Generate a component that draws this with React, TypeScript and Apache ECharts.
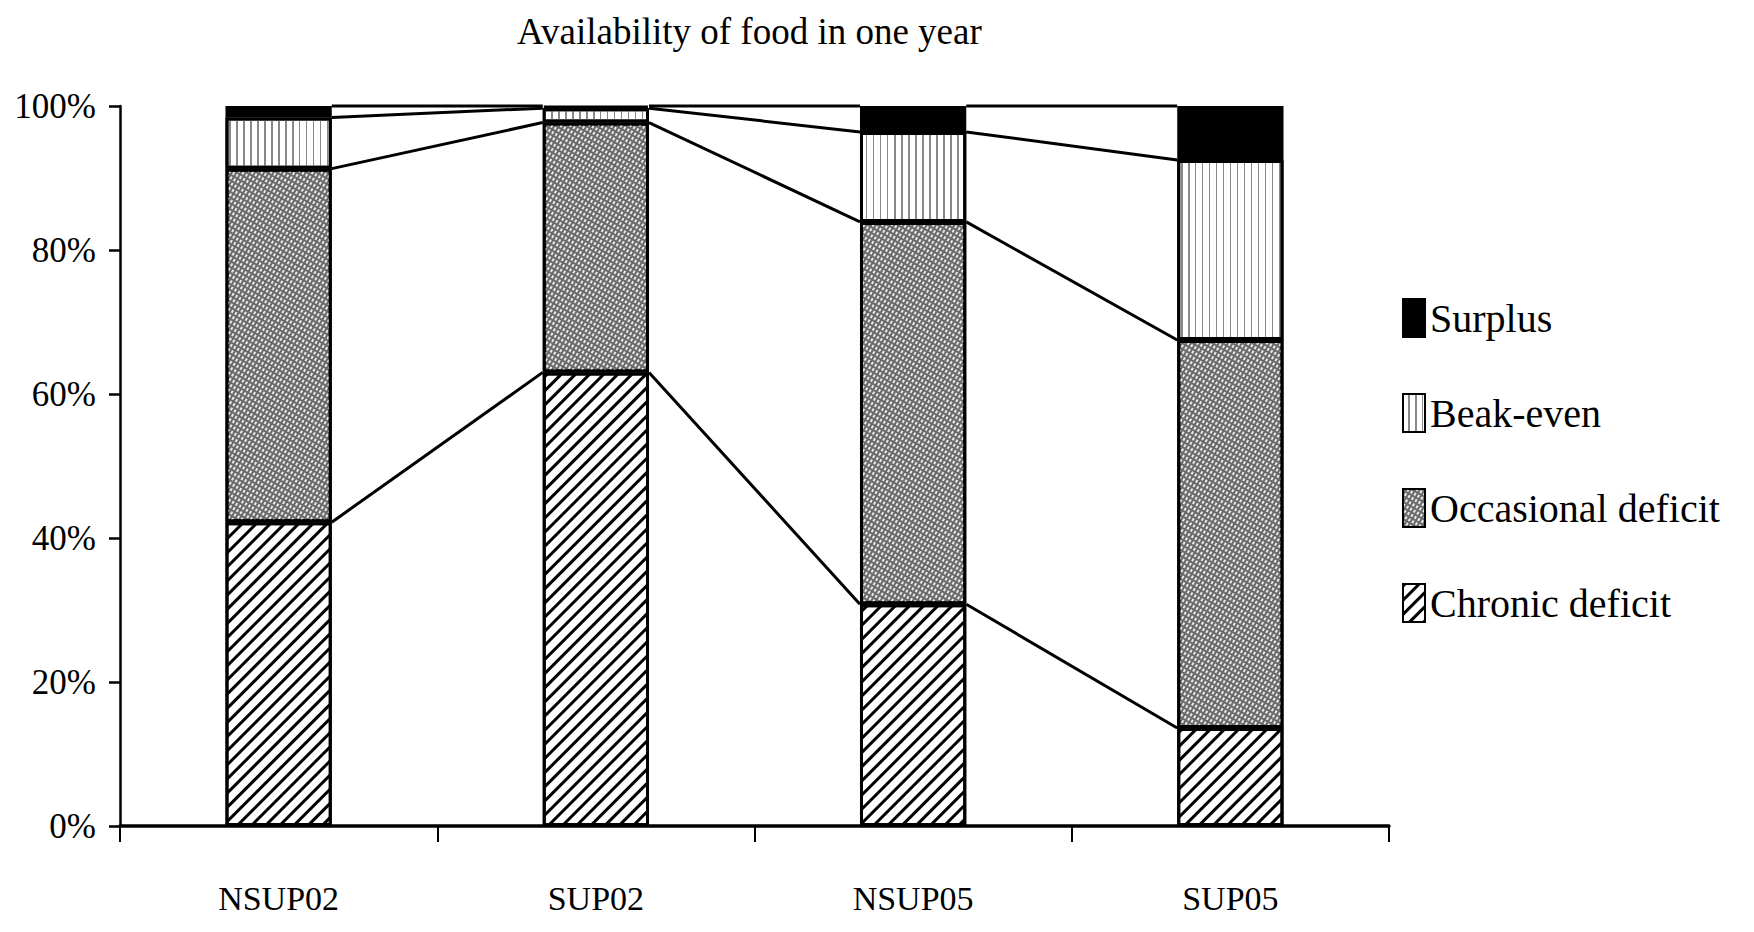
import React, { useEffect, useRef } from "react";
import * as echarts from "echarts";

const categories = ["NSUP02", "SUP02", "NSUP05", "SUP05"];
const chronicDeficit = [42.2, 63.0, 30.8, 13.6];
const occasionalDeficit = [49.1, 34.7, 53.1, 53.9];
const breakEven = [7.1, 2.0, 12.5, 25.0];
const surplus = [1.6, 0.3, 3.6, 7.5];
const seriesNames = ["Chronic deficit", "Occasional deficit", "Beak-even", "Surplus"];
const legendOrder = ["Surplus", "Beak-even", "Occasional deficit", "Chronic deficit"];
const yTicks = [0, 20, 40, 60, 80, 100];

const BAR_RATIO = 0.335;
const FONT = "'Liberation Serif', 'Times New Roman', serif";

export default function App() {
  const ref = useRef<HTMLDivElement>(null);
  useEffect(() => {
    document.body.style.margin = "0";
    const chart = echarts.init(ref.current!, null, { renderer: "svg" });
    const seriesData = [chronicDeficit, occasionalDeficit, breakEven, surplus];
    // cumulative levels for series lines
    const levels: number[][] = [];
    let acc = categories.map(() => 0);
    seriesData.forEach((arr) => {
      acc = acc.map((v, i) => v + arr[i]);
      levels.push(acc.slice());
    });

    const styles: any[] = [
      {
        color: "#ffffff",
        borderColor: "#000",
        borderWidth: 3,
        decal: {
          symbol: "rect",
          symbolSize: 1,
          color: "#000",
          dashArrayX: [1, 0],
          dashArrayY: [2.5, 7],
          rotation: -Math.PI / 4,
        },
      },
      {
        color: "#6a6a6a",
        borderColor: "#000",
        borderWidth: 3,
        decal: {
          symbol: "rect",
          symbolSize: 1,
          color: "rgba(255,255,255,0.85)",
          dashArrayX: [3, 2],
          dashArrayY: [1.5, 2],
          rotation: -Math.PI / 3,
        },
      },
      {
        color: "#ffffff",
        borderColor: "#000",
        borderWidth: 3,
        decal: {
          symbol: "rect",
          symbolSize: 1,
          color: "#888",
          dashArrayX: [1, 0],
          dashArrayY: [1.6, 5],
          rotation: Math.PI / 2,
        },
      },
      { color: "#000", borderColor: "#000", borderWidth: 3 },
    ];

    const bars = seriesNames.map((name, k) => ({
      name,
      type: "bar",
      stack: "total",
      barWidth: BAR_RATIO * 100 + "%",
      data: seriesData[k],
      itemStyle: styles[k],
      emphasis: { disabled: true },
    }));

    const seriesLines = {
      type: "custom",
      name: "series-lines",
      z: 5,
      silent: true,
      data: categories.slice(0, -1).map((_, i) => [i, 100]),
      encode: { x: 0, y: 1 },
      renderItem: (params: any, api: any) => {
        const i = api.value(0);
        const bw = api.size([1, 0])[0] * BAR_RATIO;
        return {
          type: "group",
          children: levels.map((lv) => {
            const p1 = api.coord([i, lv[i]]);
            const p2 = api.coord([i + 1, lv[i + 1]]);
            return {
              type: "line",
              shape: { x1: p1[0] + bw / 2, y1: p1[1], x2: p2[0] - bw / 2, y2: p2[1] },
              style: { stroke: "#000", lineWidth: 3 },
            };
          }),
        };
      },
    };

    chart.setOption({
      animation: false,
      backgroundColor: "#fff",
      title: {
        text: "Availability of food in one year",
        left: 512,
        top: 8,
        textStyle: { fontFamily: FONT, fontSize: 37, fontWeight: "normal", color: "#000" },
      },
      grid: { left: 120, right: 365, top: 106, bottom: 106 },
      legend: {
        data: legendOrder,
        orient: "vertical",
        icon: "rect",
        left: 1397,
        top: 293,
        itemWidth: 22,
        itemHeight: 38,
        itemGap: 55,
        selectedMode: false,
        textStyle: { fontFamily: FONT, fontSize: 40, color: "#000", lineHeight: 40 },
      },
      xAxis: {
        type: "category",
        data: categories,
        boundaryGap: true,
        axisLine: { lineStyle: { color: "#000", width: 3.5 } },
        axisTick: { show: true, interval: 0, length: 16, lineStyle: { color: "#000", width: 2 } },
        axisLabel: { fontFamily: FONT, fontSize: 34, color: "#000", margin: 55 },
      },
      yAxis: {
        type: "value",
        min: yTicks[0],
        max: yTicks[yTicks.length - 1],
        interval: 20,
        splitLine: { show: false },
        axisLine: { show: true, lineStyle: { color: "#000", width: 2.5 } },
        axisTick: { show: true, length: 11, lineStyle: { color: "#000", width: 2.5 } },
        axisLabel: { fontFamily: FONT, fontSize: 35, color: "#000", margin: 24, formatter: "{value}%" },
      },
      series: [...bars, seriesLines],
    });
    return () => chart.dispose();
  }, []);
  return <div ref={ref} style={{ width: 1754, height: 932 }} />;
}
